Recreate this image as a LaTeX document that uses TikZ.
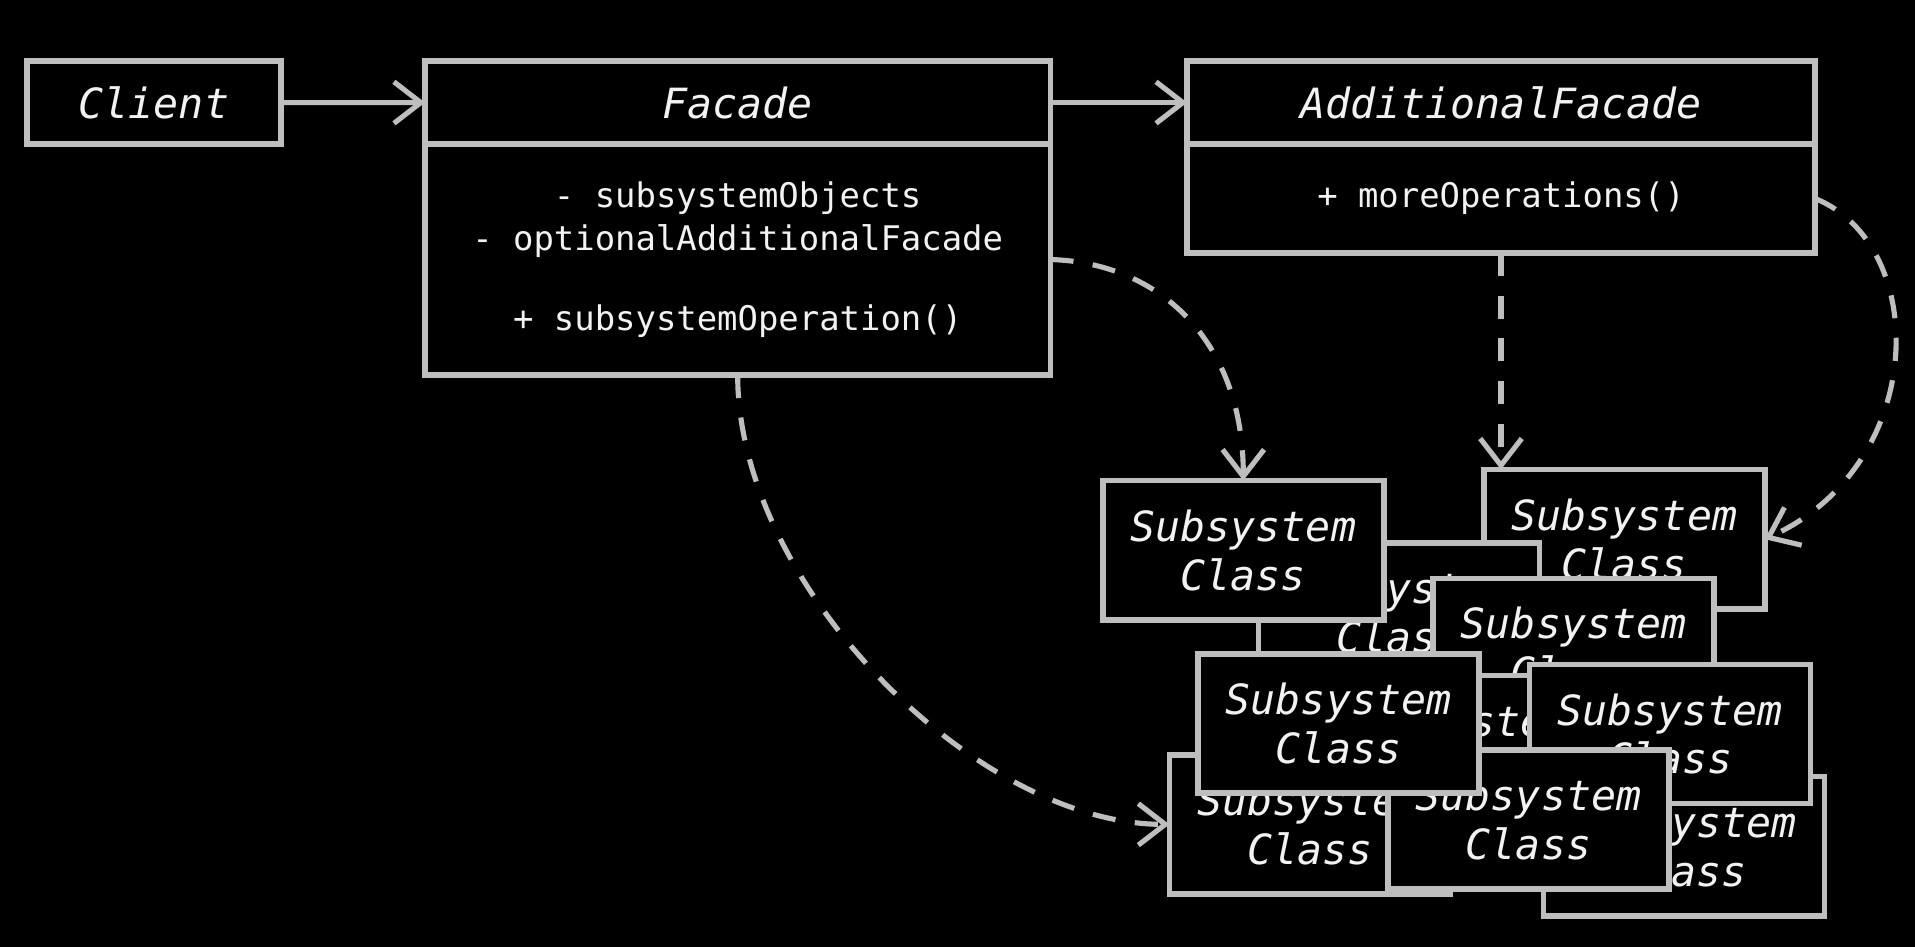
\documentclass[tikz,border=0pt]{standalone}
\usepackage{fontspec}
\setmonofont{DejaVu Sans Mono}
\usetikzlibrary{arrows.meta,positioning}
\definecolor{edgegray}{RGB}{190,190,190}
\definecolor{inkwhite}{RGB}{242,242,242}
\begin{document}
\begin{tikzpicture}[x=1mm,y=-1mm,
    box/.style={draw=edgegray,line width=0.45mm,fill=black,text=inkwhite,inner sep=0pt,outer sep=0pt,align=center},
    title/.style={box,font=\ttfamily\itshape\fontsize{9.7}{11.4}\selectfont},
    members/.style={box,font=\ttfamily\fontsize{7.9}{10}\selectfont},
    subbox/.style={title,minimum width=23mm,minimum height=11.4mm},
    link/.style={draw=edgegray,line width=0.42mm,-{Straight Barb[length=2.2mm,width=3.4mm]}},
    uses/.style={link,dash pattern=on 1.9mm off 1.6mm}]
    \useasboundingbox[fill=black] (0,0) rectangle (156.8,77.5);

    % Client and facades
    \node[title,minimum width=20.8mm,minimum height=6.8mm] (client) at (12.6,8.4) {Client};
    \node[title,minimum width=51.2mm,minimum height=6.8mm,anchor=north] (facade) at (60.4,5.0) {Facade};
    \node[members,minimum width=51.2mm,minimum height=18.9mm,below=0pt of facade] (facadeBody)
        {- subsystemObjects\\- optionalAdditionalFacade\\[8.5pt]+ subsystemOperation()};
    \node[title,minimum width=51.4mm,minimum height=6.8mm,anchor=north] (addFacade) at (122.9,5.0) {AdditionalFacade};
    \node[members,minimum width=51.4mm,minimum height=8.9mm,below=0pt of addFacade] (addBody)
        {+ moreOperations()};

    % Subsystem classes, back to front
    \node[subbox] (subB) at (133.0,44.15) {Subsystem\\Class};
    \node[subbox] (subC) at (114.55,50.15) {Subsystem\\Class};
    \node[subbox] (subK) at (128.85,53.05) {Subsystem\\Class};
    \node[subbox] (subF) at (119.4,61.0) {Subsystem\\Class};
    \node[subbox] (subE) at (107.25,67.5) {Subsystem\\Class};
    \node[subbox] (subI) at (137.9,69.3) {Subsystem\\Class};
    \node[subbox] (subH) at (136.75,60.1) {Subsystem\\Class};
    \node[subbox] (subG) at (125.15,67.1) {Subsystem\\Class};
    \node[subbox] (subD) at (109.6,59.25) {Subsystem\\Class};
    \node[subbox] (subA) at (101.8,45.05) {Subsystem\\Class};

    % Associations
    \draw[link] (client) -- (facade);
    \draw[link] (facade) -- (addFacade);

    % Dependencies
    \draw[uses] (facadeBody.east) .. controls (95,21.5) and (101.8,28) .. (subA.north);
    \draw[uses] (addBody.south) -- (addBody.south |- subB.north);
    \draw[uses] (addBody.east) .. controls (158,20) and (158,38) .. (subB.east);
    \draw[uses] (facadeBody.south) .. controls (60.4,48) and (80,67.5) .. (subE.west);
\end{tikzpicture}
\end{document}
